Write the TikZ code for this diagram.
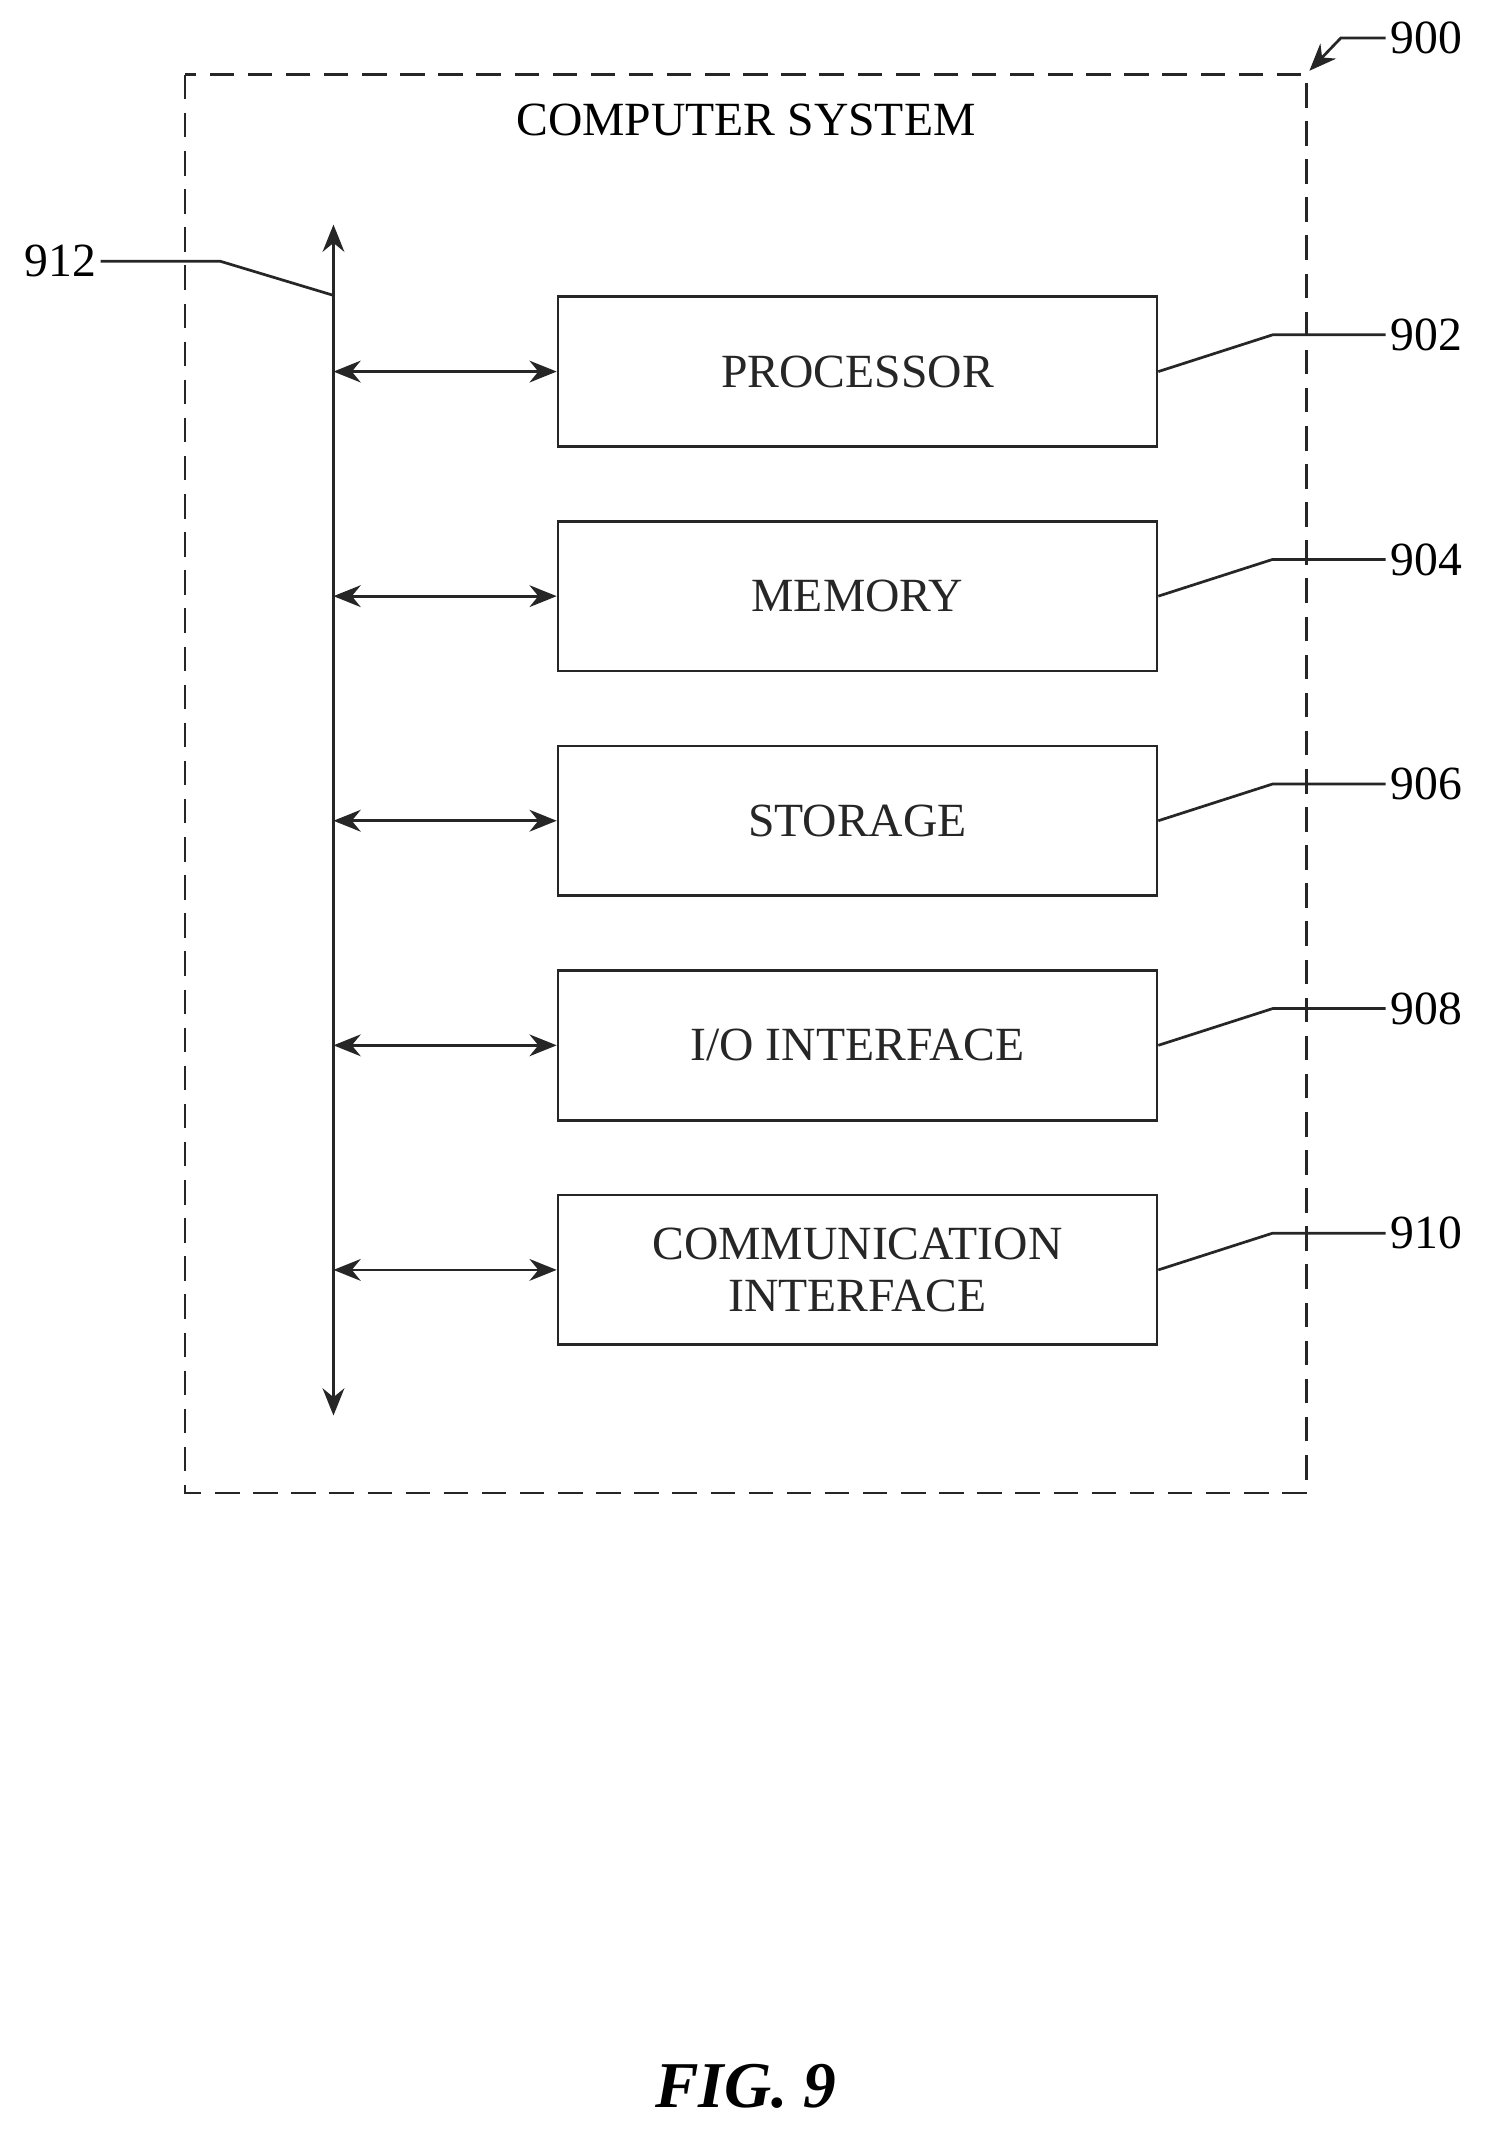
\documentclass[tikz,border=0pt]{standalone}
\usepackage{fontspec}
\setmainfont{Liberation Serif}
\usetikzlibrary{arrows.meta}
\begin{document}
\begin{tikzpicture}[x=1pt,y=-1pt,
  ln/.style={line width=2pt,color=black!85},
  tip/.style={ln,{Stealth[length=20pt,width=16pt]}-{Stealth[length=20pt,width=16pt]}},
  box/.style={draw,ln,minimum width=440pt,minimum height=110pt,align=center,font=\fontsize{35}{40}\selectfont},
  lab/.style={font=\fontsize{35}{40}\selectfont}]
\useasboundingbox (0,0) rectangle (1100,1573);
\draw[ln,dash pattern=on 18pt off 10pt] (136,55) rectangle (960,1097);
\node[lab] (title) at (548,88) {COMPUTER SYSTEM};
\coordinate (bt) at (245,165);
\coordinate (bb) at (245,1040);
\draw[tip] (bt) -- (bb);
\foreach \n/\y/\t/\r in {p/273/PROCESSOR/902,m/438/MEMORY/904,s/603/STORAGE/906,i/768/{I/O INTERFACE}/908,c/933/{COMMUNICATION\\[-2pt]INTERFACE}/910}{
  \node[box] (\n) at (630,\y) {\t};
  \coordinate (b\n) at (245,\y);
  \draw[tip] (b\n) -- (\n.west);
  \node[lab,anchor=west] (l\n) at (1018,\y-27) {\r};
  \draw[ln] (\n.east) -- (935,\y-27) -- (l\n.west);
}
\node[lab,anchor=east] (l912) at (74,192) {912};
\coordinate (k912) at (245,217);
\draw[ln] (l912.east) -- (162,192) -- (k912);
\node[lab,anchor=west] (l900) at (1018,28) {900};
\coordinate (k900) at (962,52);
\draw[ln,-{Stealth[length=20pt,width=16pt]}] (l900.west) -- (985,28) -- (k900);
\node[font=\fontsize{48}{56}\selectfont\bfseries\itshape] (fig) at (548,1533) {FIG. 9};
\end{tikzpicture}
\end{document}
